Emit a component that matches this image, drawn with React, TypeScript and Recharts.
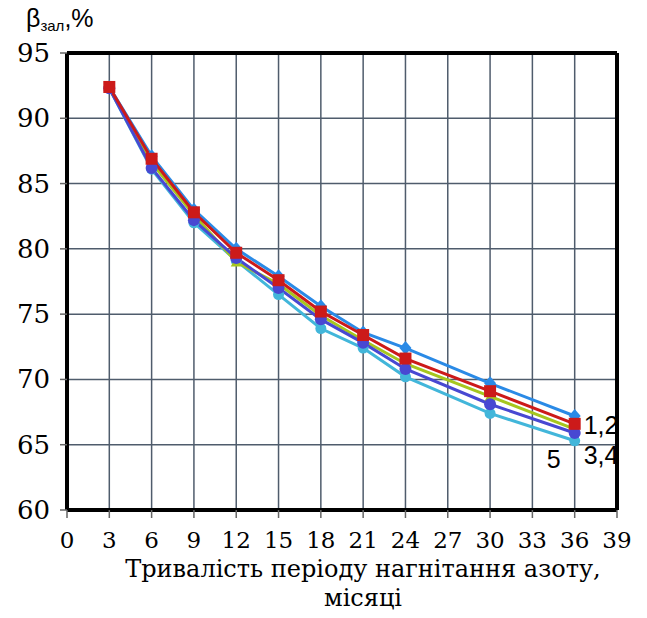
import React from 'react';
import { LineChart, Line, XAxis, YAxis, CartesianGrid, ReferenceLine } from 'recharts';

// тривалість, місяці
const months = [3, 6, 9, 12, 15, 18, 21, 24, 30, 36];
// β зал, % для п'яти варіантів
const series1 = [92.4, 87.1, 83.0, 80.0, 77.9, 75.6, 73.6, 72.4, 69.7, 67.2];
const series2 = [92.4, 86.9, 82.8, 79.7, 77.6, 75.2, 73.4, 71.6, 69.1, 66.6];
const series3 = [92.3, 86.6, 82.6, 79.0, 77.3, 74.9, 73.0, 71.2, 68.7, 66.2];
const series4 = [92.3, 86.2, 82.2, 79.3, 77.0, 74.6, 72.8, 70.8, 68.1, 65.9];
const series5 = [92.3, 86.1, 82.0, 79.1, 76.5, 73.9, 72.4, 70.2, 67.4, 65.3];

const xTicks = [0, 3, 6, 9, 12, 15, 18, 21, 24, 27, 30, 33, 36, 39];
const yTicks = [60, 65, 70, 75, 80, 85, 90, 95];

const data = months.map((m, i) => ({
  month: m,
  s1: series1[i],
  s2: series2[i],
  s3: series3[i],
  s4: series4[i],
  s5: series5[i],
}));

const last = months.length - 1;
const SERIF = '"DejaVu Serif", serif';
const SANS = '"Liberation Sans", Arial, sans-serif';

type Shape = 'diamond' | 'square' | 'triangle' | 'circle';

const makeDot = (shape: Shape, color: string, size: number) => (props: any) => {
  const { cx, cy, index } = props;
  if (cx == null || cy == null) return <g key={index} />;
  const h = size / 2;
  if (shape === 'square') {
    return <rect key={index} x={cx - h} y={cy - h} width={size} height={size} fill={color} />;
  }
  if (shape === 'diamond') {
    return (
      <polygon
        key={index}
        points={`${cx},${cy - h - 1} ${cx + h},${cy} ${cx},${cy + h + 1} ${cx - h},${cy}`}
        fill={color}
      />
    );
  }
  if (shape === 'triangle') {
    return (
      <polygon
        key={index}
        points={`${cx},${cy - h} ${cx + h},${cy + h - 1} ${cx - h},${cy + h - 1}`}
        fill={color}
      />
    );
  }
  return <circle key={index} cx={cx} cy={cy} r={h} fill={color} />;
};

// підпис біля останньої точки
const endLabel = (text: string, dx: number, dy: number) => (props: any) => {
  const { x, y, index } = props;
  if (index !== last) return <g key={index} />;
  return (
    <text key={index} x={x + dx} y={y + dy} fontFamily={SANS} fontSize={25} fill="#000">
      {text}
    </text>
  );
};

const XTick = (props: any) => {
  const { x, y, payload } = props;
  return (
    <text x={x} y={y + 19} textAnchor="middle" fontFamily={SERIF} fontSize={23} fill="#000">
      {payload.value}
    </text>
  );
};

const YTick = (props: any) => {
  const { x, y, payload } = props;
  return (
    <text x={x} y={y + 9} textAnchor="end" fontFamily={SERIF} fontSize={26} fill="#000">
      {payload.value}
    </text>
  );
};

export default function App() {
  return (
    <div style={{ position: 'absolute', left: 0, top: 0, width: 647, height: 618, background: '#fff' }}>
      <div
        style={{
          position: 'absolute',
          left: 26,
          top: 4,
          fontFamily: SANS,
          fontSize: 25,
          color: '#000',
          whiteSpace: 'nowrap',
        }}
      >
        β<sub style={{ fontSize: 15, verticalAlign: '-4px' }}>зал</sub>,%
      </div>
      <LineChart
        width={647}
        height={618}
        data={data}
        margin={{ top: 53, right: 30, left: 0, bottom: 0 }}
      >
        <CartesianGrid stroke="#4f5c6c" strokeWidth={1.5} />
        <XAxis
          dataKey="month"
          type="number"
          domain={[0, 39]}
          ticks={xTicks}
          interval={0}
          height={108}
          tickSize={8}
          tickMargin={11}
          tick={<XTick />}
          tickLine={{ stroke: '#666', strokeWidth: 1.5 }}
          axisLine={{ stroke: '#000', strokeWidth: 4 }}
        />
        <YAxis
          type="number"
          domain={[60, 95]}
          ticks={yTicks}
          interval={0}
          width={67}
          tickSize={7}
          tickMargin={10}
          tick={<YTick />}
          tickLine={{ stroke: '#666', strokeWidth: 1.5 }}
          axisLine={{ stroke: '#000', strokeWidth: 4 }}
        />
        <ReferenceLine y={95} stroke="#000" strokeWidth={4} />
        <ReferenceLine x={39} stroke="#000" strokeWidth={4} />
        <Line
          dataKey="s1"
          stroke="#2a8ae6"
          strokeWidth={3}
          dot={makeDot('diamond', '#2a8ae6', 12)}
          isAnimationActive={false}
        />
        <Line
          dataKey="s5"
          stroke="#42b6da"
          strokeWidth={3}
          dot={makeDot('circle', '#42b6da', 11)}
          label={endLabel('5', -28, 27)}
          isAnimationActive={false}
        />
        <Line
          dataKey="s3"
          stroke="#a6c61e"
          strokeWidth={3}
          dot={makeDot('triangle', '#a6c61e', 11)}
          isAnimationActive={false}
        />
        <Line
          dataKey="s4"
          stroke="#4848d2"
          strokeWidth={3}
          dot={makeDot('circle', '#4848d2', 12)}
          label={endLabel('3,4', 9, 31)}
          isAnimationActive={false}
        />
        <Line
          dataKey="s2"
          stroke="#cc1a1a"
          strokeWidth={3}
          dot={makeDot('square', '#cc1a1a', 12)}
          label={endLabel('1,2', 9, 10)}
          isAnimationActive={false}
        />
      </LineChart>
      <div
        style={{
          position: 'absolute',
          left: 0,
          width: 726,
          top: 555,
          textAlign: 'center',
          fontFamily: SERIF,
          fontSize: 24,
          lineHeight: '29px',
          color: '#000',
          whiteSpace: 'nowrap',
        }}
      >
        Тривалість періоду нагнітання азоту,
        <br />
        місяці
      </div>
    </div>
  );
}
